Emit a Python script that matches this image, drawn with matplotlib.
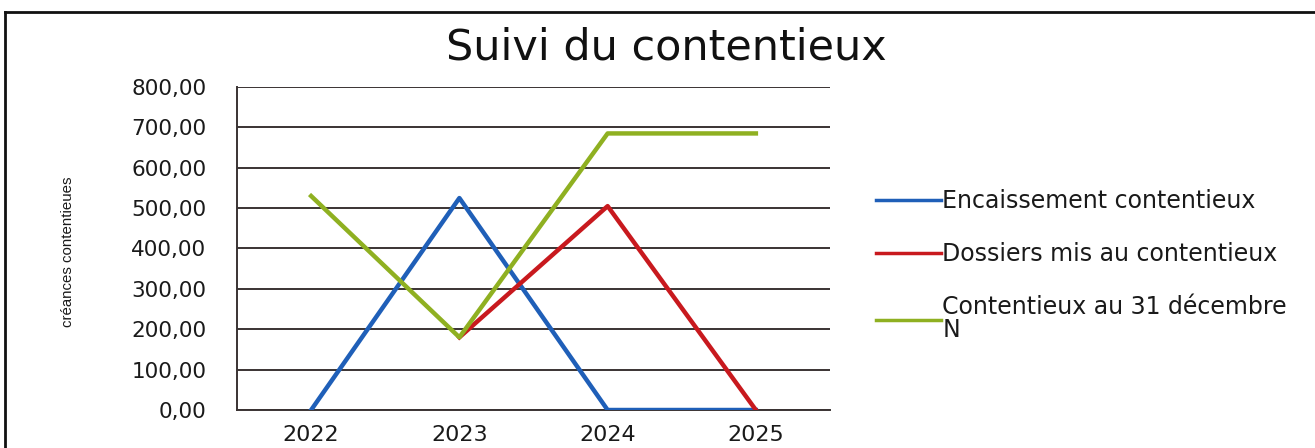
import numpy as np
import matplotlib
matplotlib.use("Agg")
import matplotlib.pyplot as plt
from matplotlib.lines import Line2D
from matplotlib.ticker import FuncFormatter

years = ["2022", "2023", "2024", "2025"]
encaissement = [0, 525, 0, 0]
dossiers = [np.nan, 180, 505, 0]
contentieux = [530, 180, 685, 685]
labels = ["Encaissement contentieux", "Dossiers mis au contentieux",
          "Contentieux au 31 décembre\nN"]
yticks = [0, 100, 200, 300, 400, 500, 600, 700, 800]

W, H = 1315, 448
fig = plt.figure(figsize=(W / 100, H / 100), dpi=100)
ax = fig.add_axes([237 / W, 1 - 410 / H, (830 - 237) / W, (410 - 87) / H])

x = np.arange(len(years))
l1, = ax.plot(x, encaissement, color="#1f5fb8", lw=3.2, solid_joinstyle="round", zorder=3)
l2, = ax.plot(x, dossiers, color="#c8191e", lw=3.2, solid_joinstyle="round", zorder=3)
l3, = ax.plot(x, contentieux, color="#8fb021", lw=3.2, solid_joinstyle="round", zorder=4)

ax.set_xlim(-0.5, len(years) - 0.5)
ax.set_ylim(0, 800)
ax.set_yticks(yticks)
ax.yaxis.set_major_formatter(FuncFormatter(lambda v, p: f"{v:.2f}".replace(".", ",")))
ax.set_xticks(x)
ax.set_xticklabels(years)
ax.tick_params(axis="both", length=0, colors="#1a1a1a")
ax.tick_params(axis="y", pad=22, labelsize=15.5)
ax.tick_params(axis="x", pad=11, labelsize=16)
ax.grid(axis="y", color="#3a3333", lw=1.4, zorder=1)
for s in ["top", "right"]:
    ax.spines[s].set_visible(False)
ax.spines["left"].set_color("#3a3333")
ax.spines["left"].set_linewidth(1.4)
ax.spines["bottom"].set_color("#3a3333")
ax.spines["bottom"].set_linewidth(1.4)

fig.text(68 / W, 1 - 252 / H, "créances contentieues", rotation=90,
         ha="center", va="center", family=["Liberation Sans", "DejaVu Sans"],
         fontsize=10.8, color="#1a1a1a")

fig.text(666 / W, 1 - 47 / H, "Suivi du contentieux", ha="center", va="center",
         fontsize=31, color="#111111")

leg = fig.legend([l1, l2, l3], labels, loc="upper left",
                 bbox_to_anchor=(855 / W, 1 - 168 / H), frameon=False,
                 fontsize=17, handlelength=2.75, handletextpad=0.05,
                 labelspacing=1.22)
for t in leg.get_texts():
    t.set_color("#1a1a1a")
    t.set_linespacing(0.95)
for h in leg.legend_handles:
    h.set_linewidth(2.5)

fig.add_artist(Line2D([5 / W, 5 / W], [0, 1 - 12 / H], transform=fig.transFigure,
                      color="#111111", lw=2))
fig.add_artist(Line2D([5 / W, 1], [1 - 12 / H, 1 - 12 / H], transform=fig.transFigure,
                      color="#111111", lw=2))

fig.savefig("out.png", dpi=100)
